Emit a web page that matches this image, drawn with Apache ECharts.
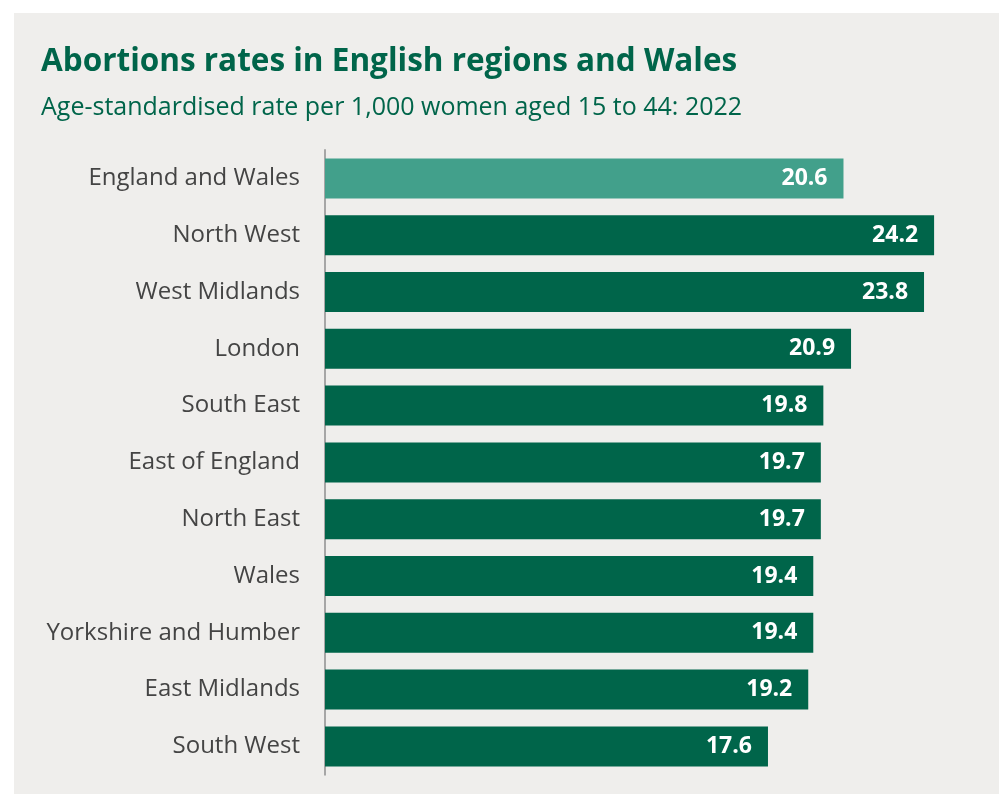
<!DOCTYPE html>
<html>
<head>
<meta charset="utf-8">
<script src="https://cdn.jsdelivr.net/npm/echarts@6/dist/echarts.min.js"></script>
<style>
  html, body { margin: 0; padding: 0; background: #ffffff; }
  #chart { width: 999px; height: 794px; }
</style>
</head>
<body>
<div id="chart"></div>
<script>
// Regions, top to bottom
const regions = [
  'England and Wales',
  'North West',
  'West Midlands',
  'London',
  'South East',
  'East of England',
  'North East',
  'Wales',
  'Yorkshire and Humber',
  'East Midlands',
  'South West'
];
// Age-standardised abortion rate per 1,000 women aged 15 to 44, 2022
const rates = [20.6, 24.2, 23.8, 20.9, 19.8, 19.7, 19.7, 19.4, 19.4, 19.2, 17.6];

const darkGreen = '#00654a';
const lightGreen = '#42a08b';

const chart = echarts.init(document.getElementById('chart'));

chart.setOption({
  animation: false,
  backgroundColor: '#ffffff',
  graphic: [
    {
      type: 'rect',
      z: -10,
      shape: { x: 14, y: 13, width: 985, height: 781 },
      style: { fill: '#efeeec' }
    }
  ],
  title: {
    text: 'Abortions rates in English regions and Wales',
    subtext: 'Age-standardised rate per 1,000 women aged 15 to 44: 2022',
    left: 36,
    top: 41,
    itemGap: 17,
    textStyle: {
      fontFamily: 'Open Sans',
      fontWeight: 'bold',
      fontSize: 31.5,
      color: '#00654a'
    },
    subtextStyle: {
      fontFamily: 'Open Sans',
      fontSize: 25,
      color: '#00654a'
    }
  },
  grid: {
    left: 325,
    top: 150,
    width: 654.4,
    height: 624.8,
    containLabel: false
  },
  xAxis: {
    type: 'value',
    min: 0,
    max: 26,
    show: false
  },
  yAxis: {
    type: 'category',
    data: regions,
    inverse: true,
    axisLine: { show: true, lineStyle: { color: '#a6a6a6', width: 2 } },
    axisTick: { show: false },
    axisLabel: {
      fontFamily: 'Open Sans',
      fontSize: 24,
      color: '#444444',
      margin: 25,
      padding: [3, 0, 0, 0]
    }
  },
  series: [
    {
      type: 'bar',
      data: rates.map((v, i) => ({
        value: v,
        itemStyle: { color: i === 0 ? lightGreen : darkGreen }
      })),
      barWidth: 40,
      label: {
        show: true,
        position: 'insideRight',
        distance: 16,
        formatter: p => p.value.toFixed(1),
        fontFamily: 'Open Sans',
        fontWeight: 'bold',
        fontSize: 23,
        color: '#ffffff'
      }
    }
  ]
});
</script>
</body>
</html>
